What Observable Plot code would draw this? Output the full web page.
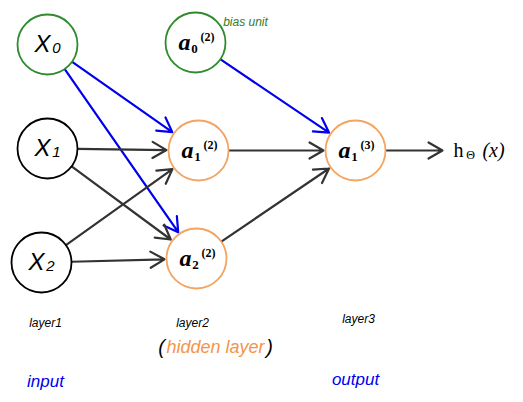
<!DOCTYPE html>
<html><head><meta charset="utf-8">
<script src="https://cdn.jsdelivr.net/npm/d3@7"></script>
<script src="https://cdn.jsdelivr.net/npm/@observablehq/plot@0.6"></script>
<style>body{margin:0;background:#fff}</style>
</head><body><div id="c"></div>
<script>
const nodes = [
  {id:"x0", x:47, y:44, kind:"bias", main:"X", sub:"0", sup:""},
  {id:"x1", x:47, y:148, kind:"in", main:"X", sub:"1", sup:""},
  {id:"x2", x:41, y:262, kind:"in", main:"X", sub:"2", sup:""},
  {id:"a0", x:195, y:42, kind:"bias", main:"a", sub:"0", sup:"(2)"},
  {id:"a1", x:198, y:150, kind:"hid", main:"a", sub:"1", sup:"(2)"},
  {id:"a2", x:196, y:258, kind:"hid", main:"a", sub:"2", sup:"(2)"},
  {id:"a3", x:355, y:150, kind:"hid", main:"a", sub:"1", sup:"(3)"}
];
const edges = [
  ["x0","a1","blue"],["x0","a2","blue"],["a0","a3","blue"],
  ["x1","a1","dark"],["x1","a2","dark"],["x2","a1","dark"],["x2","a2","dark"],
  ["a1","a3","dark"],["a2","a3","dark"]
];
const outputArrow = [{x1:385, y1:150, x2:442, y2:150}];
const labels = [
  {x:245, y:22, t:"bias unit", c:"#2e7d1e", s:12},
  {x:45, y:323, t:"layer1", c:"#000", s:12},
  {x:192, y:323, t:"layer2", c:"#000", s:12},
  {x:358, y:319, t:"layer3", c:"#000", s:12},
  {x:45, y:381, t:"input", c:"#0000ee", s:17},
  {x:355, y:379, t:"output", c:"#0000ee", s:17}
];
const byId = Object.fromEntries(nodes.map(n=>[n.id,n]));
const edgeData = edges.map(([a,b,c])=>({x1:byId[a].x,y1:byId[a].y,x2:byId[b].x,y2:byId[b].y,c}));
const stroke = {bias:"#2e8b2e", in:"#000", hid:"#f4a460"};
const xn = nodes.filter(n=>n.id[0]==="x"), an = nodes.filter(n=>n.id[0]==="a");
const chart = Plot.plot({
  width:523, height:402, margin:0,
  x:{domain:[0,523], axis:null}, y:{domain:[0,402], axis:null, reverse:true},
  marks:[
    Plot.arrow(edgeData.filter(d=>d.c==="blue"), {x1:"x1",y1:"y1",x2:"x2",y2:"y2",stroke:"#0000ee",strokeWidth:2.2,insetStart:28,insetEnd:32,headLength:11}),
    Plot.arrow(edgeData.filter(d=>d.c==="dark"), {x1:"x1",y1:"y1",x2:"x2",y2:"y2",stroke:"#333",strokeWidth:2.2,insetStart:30,insetEnd:32,headLength:11}),
    Plot.arrow(outputArrow, {x1:"x1",y1:"y1",x2:"x2",y2:"y2",stroke:"#333",strokeWidth:2.2,headLength:11}),
    Plot.dot(nodes, {x:"x",y:"y",r:30,fill:"white",stroke:d=>stroke[d.kind],strokeWidth:1.8}),
    Plot.text(xn, {x:"x",y:"y",text:"main",dx:-5,fontSize:24,fontStyle:"italic",fontFamily:"Arial",fill:"#000"}),
    Plot.text(xn, {x:"x",y:"y",text:"sub",dx:9,dy:4,fontSize:15,fontStyle:"italic",fontFamily:"Arial",fill:"#000"}),
    Plot.text(an, {x:"x",y:"y",text:"main",dx:-11,fontSize:24,fontStyle:"italic",fontWeight:"bold",fontFamily:"Liberation Serif",fill:"#000"}),
    Plot.text(an, {x:"x",y:"y",text:"sub",dx:-1,dy:6,fontSize:13,fontWeight:"bold",fontFamily:"Liberation Serif",fill:"#000"}),
    Plot.text(an, {x:"x",y:"y",text:"sup",dx:12,dy:-5,fontSize:12,fontWeight:"bold",fontFamily:"Liberation Serif",fill:"#000"}),
    Plot.text([{x:458,y:150}], {x:"x",y:"y",text:()=>"h",fontSize:20,fontFamily:"Liberation Serif",fill:"#000"}),
    Plot.text([{x:470,y:155}], {x:"x",y:"y",text:()=>"Θ",fontSize:12,fontFamily:"Liberation Serif",fill:"#000"}),
    Plot.text([{x:493,y:150}], {x:"x",y:"y",text:()=>"(x)",fontSize:20,fontFamily:"Liberation Serif",fontStyle:"italic",fill:"#000"}),
    Plot.text(labels, {x:"x",y:"y",text:"t",fill:"c",fontSize:"s",fontStyle:"italic",fontFamily:"Arial"}),
    Plot.text([{x:215,y:347}], {x:"x",y:"y",text:()=>"hidden layer",fill:"#f4944a",fontSize:18,fontStyle:"italic",fontFamily:"Arial"}),
    Plot.text([{x:161,y:347},{x:269,y:347}], {x:"x",y:"y",text:(d,i)=>i?")":"(",fill:"#000",fontSize:20,fontStyle:"italic",fontFamily:"Arial"})
  ]
});
document.getElementById("c").append(chart);
</script></body></html>
